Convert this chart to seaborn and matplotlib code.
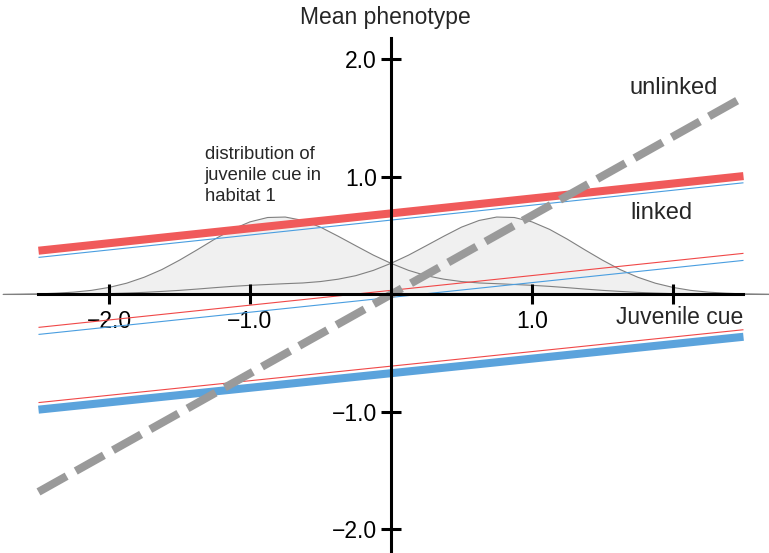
import numpy as np
import pandas as pd
import seaborn as sns
import matplotlib.pyplot as plt

# juvenile cue grid for the two habitat distributions
cue = np.arange(-2.75, 2.751, 0.125)
habitat1 = [0.001, 0.003, 0.005, 0.011, 0.020, 0.035, 0.060, 0.096, 0.147,
            0.212, 0.292, 0.380, 0.471, 0.554, 0.618, 0.655, 0.659, 0.630,
            0.573, 0.496, 0.415, 0.335, 0.265, 0.205, 0.160, 0.130, 0.110,
            0.098, 0.092, 0.085, 0.078, 0.069, 0.058, 0.046, 0.035, 0.026,
            0.018, 0.012, 0.007, 0.004, 0.002, 0.001, 0.001, 0.000, 0.000]
habitat2 = [0.000, 0.000, 0.001, 0.001, 0.002, 0.004, 0.007, 0.012, 0.018,
            0.026, 0.035, 0.046, 0.058, 0.069, 0.078, 0.085, 0.092, 0.098,
            0.110, 0.130, 0.160, 0.205, 0.265, 0.335, 0.415, 0.496, 0.573,
            0.630, 0.659, 0.655, 0.618, 0.554, 0.471, 0.380, 0.292, 0.212,
            0.147, 0.096, 0.060, 0.035, 0.020, 0.011, 0.005, 0.003, 0.001]

# reaction norms (mean phenotype = intercept + slope * cue)
norm_names = ['red_thick', 'blue_thin_top', 'red_thin_mid', 'blue_thin_mid',
              'red_thin_low', 'blue_thick', 'unlinked']
intercepts = [0.69, 0.633, 0.035, -0.025, -0.61, -0.67, 0.0]
slopes = [0.127, 0.127, 0.126, 0.126, 0.124, 0.124, 0.672]
colors = ['#f05a5a', '#4a9ee0', '#f04848', '#4a9ee0', '#f04848', '#5ba3dc', '#9a9a9a']
widths = [5.8, 0.8, 0.8, 0.8, 0.8, 5.8, 5.8]

x_ticks = [-2, -1, 1, 2]
x_labels = ['\u22122.0', '\u22121.0', '1.0', '']
y_ticks = [-2, -1, 1, 2]
y_labels = ['\u22122.0', '\u22121.0', '1.0', '2.0']

sns.set_theme(style='white')
plt.rcParams['font.family'] = ['Liberation Sans', 'DejaVu Sans']

fig = plt.figure(figsize=(7.69, 5.53), dpi=100)
ax = fig.add_axes([0, 0, 1, 1])
ax.set_xlim(-2.773, 2.681)
ax.set_ylim(-2.2, 2.506)
ax.set_axisbelow(False)

# distributions of the juvenile cue
ax.fill_between(cue, habitat1, color='#f0f0f0', lw=0, zorder=1)
ax.fill_between(cue, habitat2, color='#f0f0f0', lw=0, zorder=1)
sns.lineplot(x=cue, y=habitat1, color='#808080', lw=0.8, ax=ax, zorder=2)
sns.lineplot(x=cue, y=habitat2, color='#808080', lw=0.8, ax=ax, zorder=2)

# reaction norm lines
ends = np.array([-2.5, 2.5])
for name, a, b, c, w in zip(norm_names, intercepts, slopes, colors, widths):
    df = pd.DataFrame({'cue': ends, 'phen': a + b * ends})
    if name == 'unlinked':
        sns.lineplot(data=df, x='cue', y='phen', color=c, lw=w, ax=ax,
                     linestyle=(0, (4, 1.3)), dash_capstyle='butt', zorder=4)
    else:
        sns.lineplot(data=df, x='cue', y='phen', color=c, lw=w, ax=ax,
                     solid_capstyle='butt', zorder=3)

# axes through the origin
for side in ['top', 'right']:
    ax.spines[side].set_visible(False)
ax.spines['left'].set_position(('data', 0))
ax.spines['bottom'].set_position(('data', 0))
ax.spines['left'].set_bounds(-2.2, 2.18)
ax.spines['bottom'].set_bounds(-2.5, 2.5)
for side in ['left', 'bottom']:
    ax.spines[side].set_color('black')
    ax.spines[side].set_linewidth(2.2)
    ax.spines[side].set_zorder(5)
ax.set_xticks(x_ticks)
ax.set_xticklabels(x_labels)
ax.set_yticks(y_ticks)
ax.set_yticklabels(y_labels)
ax.tick_params(direction='inout', length=14, width=2.2, color='black',
               labelsize=16.5, labelcolor='black')
ax.tick_params(axis='x', pad=4, bottom=True)
ax.tick_params(axis='y', pad=3, left=True)
ax.set_xlabel('')
ax.set_ylabel('')
ax.patch.set_alpha(0)

ax.text(-0.04, 2.36, 'Mean phenotype', fontsize=16.5, ha='center', va='center')
ax.text(2.5, -0.2, 'Juvenile cue', fontsize=16.5, ha='right', va='center')
ax.text(1.695, 1.757, 'unlinked', fontsize=17, ha='left', va='center')
ax.text(1.70, 0.694, 'linked', fontsize=17, ha='left', va='center')
ax.text(-1.32, 1.26, 'distribution of\njuvenile cue in\nhabitat 1', fontsize=13.3,
        ha='left', va='top', linespacing=1.3)

fig.savefig('out.png', dpi=100)
